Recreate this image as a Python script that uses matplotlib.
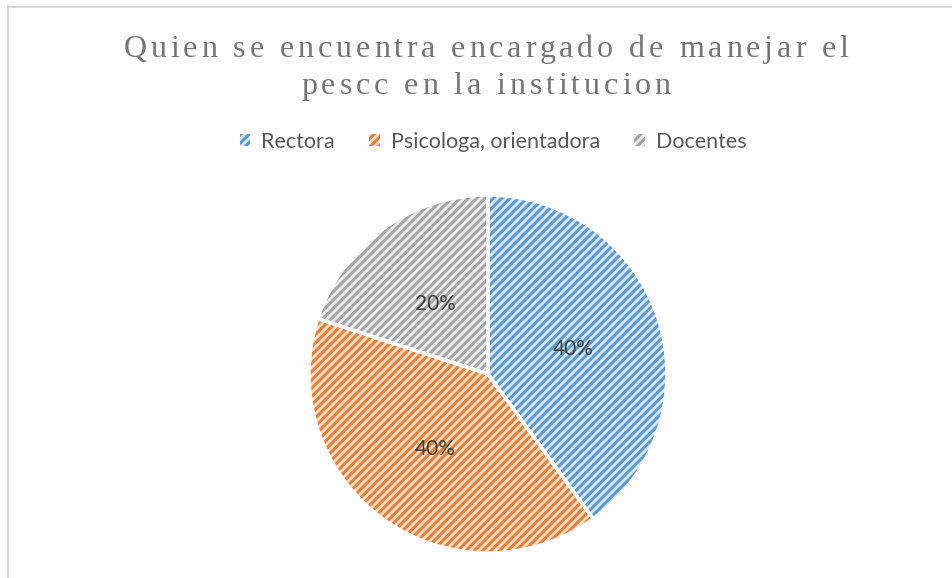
import matplotlib
matplotlib.use('Agg')
import matplotlib.pyplot as plt
from matplotlib.font_manager import FontProperties
from matplotlib.patches import Patch
from matplotlib.lines import Line2D

# Datos
categorias = ['Rectora', 'Psicologa, orientadora', 'Docentes']
valores = [40, 40, 20]
titulo = ['Quien se encuentra encargado de manejar el',
          'pescc en la institucion']

color_trama = ['#5b9bd5', '#ed7d31', '#a5a5a5']
color_fondo = ['#dbe8f6', '#fbe0cd', '#ececec']

plt.rcParams['hatch.linewidth'] = 2.2

W, H = 953, 578
fig = plt.figure(figsize=(W / 100, H / 100), dpi=100)
fig.patch.set_facecolor('white')

# Borde del grafico (solo arriba e izquierda visibles)
fig.add_artist(Line2D([8.5 / W, 8.5 / W], [0, 1 - 6 / H], color='#d9d9d9', lw=1.5))
fig.add_artist(Line2D([8 / W, 1], [1 - 6.5 / H, 1 - 6.5 / H], color='#d9d9d9', lw=1.5))

# Torta
cx, cy, r = 488, 374, 179
ax = fig.add_axes([(cx - r) / W, (H - cy - r) / H, 2 * r / W, 2 * r / H])
wedges, textos, autotextos = ax.pie(
    valores, startangle=90, counterclock=False, radius=1,
    colors=color_fondo, autopct='%1.0f%%', pctdistance=0.5,
    wedgeprops=dict(linewidth=0),
    textprops=dict(fontsize=15, color='#404040', family='Lato'))
for w, c in zip(wedges, color_trama):
    w.set_hatch('////')
    w.set_edgecolor(c)
for t in autotextos:
    x, y = t.get_position()
    t.set_position((x, y - 0.015))
# bordes blancos encima
w2, _ = ax.pie(valores, startangle=90, counterclock=False, radius=1,
               wedgeprops=dict(fill=False, edgecolor='white', linewidth=2.5))
for w in w2:
    w.set_clip_on(False)
ax.set_xlim(-1, 1)
ax.set_ylim(-1, 1)

# Titulo con espaciado entre letras
fp = FontProperties(family='Liberation Serif', size=23)
rend = fig.canvas.get_renderer()
tracking = 3.9  # px extra entre letras


def ancho(s):
    w1 = rend.get_text_width_height_descent(s + '|', fp, ismath=False)[0]
    w0 = rend.get_text_width_height_descent('|', fp, ismath=False)[0]
    return w1 - w0


for linea, base in zip(titulo, [57, 94]):
    total = ancho(linea) + tracking * (len(linea) - 1)
    x0 = 486 - total / 2
    for i, ch in enumerate(linea):
        if ch == ' ':
            continue
        x = x0 + ancho(linea[:i]) + tracking * i
        fig.text(x / W, 1 - base / H, ch, fontproperties=fp, color='#757575',
                 ha='left', va='baseline')

# Leyenda
handles = [Patch(facecolor=f, edgecolor=t, hatch='////', linewidth=0)
           for f, t in zip(color_fondo, color_trama)]
leg = fig.legend(handles, categorias, loc='center', bbox_to_anchor=(493 / W, 1 - 142 / H),
                 ncol=3, frameon=False, handlelength=0.5, handleheight=0.5,
                 handletextpad=0.5, columnspacing=1.6,
                 prop=FontProperties(family='Lato', size=15.5))
for t in leg.get_texts():
    t.set_color('#595959')

fig.savefig('out.png', dpi=100)
